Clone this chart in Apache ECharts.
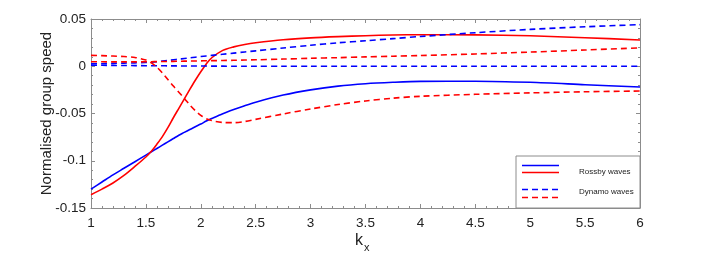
<!DOCTYPE html>
<html>
<head>
<meta charset="utf-8">
<script src="https://cdn.jsdelivr.net/npm/echarts@6/dist/echarts.min.js"></script>
<style>
html,body{margin:0;padding:0;background:#fff;}
#chart{width:708px;height:254px;}
</style>
</head>
<body>
<div id="chart"></div>
<script>
var kx = [1,1.1,1.2,1.3,1.4,1.5,1.55,1.6,1.65,1.7,1.75,1.8,1.85,1.9,1.95,2,2.05,2.1,2.2,2.3,2.4,2.5,2.75,3,3.25,3.5,3.75,4,4.5,5,5.5,6];
var rossbyBlue = [-0.130,-0.1225,-0.115,-0.108,-0.101,-0.094,-0.0905,-0.087,-0.0835,-0.080,-0.0765,-0.073,-0.070,-0.067,-0.064,-0.0612,-0.058,-0.0553,-0.0502,-0.0458,-0.0417,-0.038,-0.0305,-0.025,-0.021,-0.0185,-0.017,-0.016,-0.0158,-0.017,-0.0195,-0.022];
var rossbyRed = [-0.136,-0.130,-0.1235,-0.1155,-0.106,-0.096,-0.090,-0.0825,-0.0745,-0.065,-0.0545,-0.0445,-0.0345,-0.0245,-0.0148,-0.0058,0.0025,0.0090,0.0168,0.0205,0.0230,0.0248,0.0280,0.0300,0.0313,0.0323,0.0331,0.0334,0.0332,0.0322,0.0302,0.0278];
var dynamoBlueUpper = [0.0025,0.0027,0.0030,0.0033,0.0036,0.0040,0.0044,0.0049,0.0055,0.0061,0.0068,0.0075,0.0082,0.0089,0.0096,0.0103,0.0109,0.0115,0.0127,0.0139,0.0151,0.0163,0.0193,0.0222,0.0248,0.0270,0.0292,0.0315,0.0355,0.0390,0.0418,0.0440];
var dynamoBlueLower = [0.0010,0.0010,0.0009,0.0008,0.0007,0.0006,0.0006,0.0005,0.0005,0.0004,0.0004,0.0003,0.0003,0.0003,0.0002,0.0002,0.0002,0.0001,0.0001,0,0,0,0,0,0,0,0,0,0,0,0,0];
var dynamoRedUpper = [0.0115,0.0112,0.0108,0.0103,0.0093,0.0065,0.0035,-0.0010,-0.0070,-0.0140,-0.0210,-0.0275,-0.0340,-0.0410,-0.0470,-0.0520,-0.0555,-0.0575,-0.0595,-0.0597,-0.0585,-0.0562,-0.0505,-0.0452,-0.0405,-0.0367,-0.0338,-0.0318,-0.0297,-0.0282,-0.0270,-0.0262];
var dynamoRedLower = [0.0048,0.0047,0.0046,0.0046,0.0046,0.0047,0.0048,0.0049,0.0050,0.0051,0.0052,0.0053,0.0054,0.0055,0.0056,0.0057,0.0058,0.0059,0.0061,0.0063,0.0066,0.0068,0.0076,0.0084,0.0091,0.0099,0.0106,0.0113,0.0130,0.0150,0.0172,0.0195];
var xTicks = {min: 1, max: 6, interval: 0.5};
var yTicks = {min: -0.15, max: 0.05, interval: 0.05};
var yTitle = 'Normalised group speed';
var legendNames = ['Rossby waves', 'Dynamo waves'];

var FONT = '"Liberation Sans", Arial, Helvetica, sans-serif';
var BLUE = '#0000ff', RED = '#ff0000', FRAME = '#8c8c8c', TXT = '#222';

function pairs(ys){ return kx.map(function(x,i){ return [x, ys[i]]; }); }
function fmt(v){ return String(parseFloat(v.toFixed(3))); }

function axisBase(show){
  return {
    axisLine: {show: true, onZero: false, lineStyle: {color: FRAME, width: 1}},
    axisTick: {show: true, inside: true, length: 4, lineStyle: {color: FRAME}},
    minorTick: {show: true, splitNumber: 5, length: 2, lineStyle: {color: FRAME}},
    splitLine: {show: false},
    minorSplitLine: {show: false},
    axisLabel: {show: show, color: TXT, fontFamily: FONT, fontSize: 13.5, formatter: fmt}
  };
}

function line(name, ys, color, dashed){
  return {
    name: name, type: 'line', data: pairs(ys),
    xAxisIndex: 0, yAxisIndex: 0,
    showSymbol: false, symbol: 'none',
    smooth: 0.3,
    lineStyle: {color: color, width: 1.6, type: dashed ? [6, 4] : 'solid'},
    silent: true, animation: false
  };
}

var chart = echarts.init(document.getElementById('chart'), null, {renderer: 'canvas'});
var xb = axisBase(true), xt = axisBase(false), yl = axisBase(true), yr = axisBase(false);
xb.axisLabel.margin = 8;
yl.axisLabel.margin = 5;

var option = {
  backgroundColor: '#fff',
  animation: false,
  grid: {left: 91, right: 68, top: 19, bottom: 46, containLabel: false},
  xAxis: [
    Object.assign({type: 'value', position: 'bottom'}, xTicks, xb),
    Object.assign({type: 'value', position: 'top'}, xTicks, xt)
  ],
  yAxis: [
    Object.assign({type: 'value', position: 'left',
      name: yTitle, nameLocation: 'middle', nameGap: 37, nameMoveOverlap: false,
      nameTextStyle: {color: TXT, fontFamily: FONT, fontSize: 15}}, yTicks, yl),
    Object.assign({type: 'value', position: 'right'}, yTicks, yr)
  ],
  series: [
    line(legendNames[0], rossbyBlue, BLUE, false),
    line(legendNames[0], rossbyRed, RED, false),
    line(legendNames[1], dynamoBlueUpper, BLUE, true),
    line(legendNames[1], dynamoBlueLower, BLUE, true),
    line(legendNames[1], dynamoRedUpper, RED, true),
    line(legendNames[1], dynamoRedLower, RED, true)
  ],
  graphic: [
    {type: 'text', left: 355, top: 233, style: {text: 'k', font: '16px ' + FONT, fill: TXT}},
    {type: 'text', left: 364, top: 242, style: {text: 'x', font: '11px ' + FONT, fill: TXT}},
    {type: 'rect', shape: {x: 516, y: 156, width: 124, height: 52}, style: {fill: '#fff', stroke: FRAME, lineWidth: 1}, z: 10},
    {type: 'line', shape: {x1: 522, y1: 165.5, x2: 559, y2: 165.5}, style: {stroke: BLUE, lineWidth: 1.6}, z: 11},
    {type: 'line', shape: {x1: 522, y1: 172.5, x2: 559, y2: 172.5}, style: {stroke: RED, lineWidth: 1.6}, z: 11},
    {type: 'line', shape: {x1: 522, y1: 189.5, x2: 559, y2: 189.5}, style: {stroke: BLUE, lineWidth: 1.6, lineDash: [6, 4]}, z: 11},
    {type: 'line', shape: {x1: 522, y1: 197.5, x2: 559, y2: 197.5}, style: {stroke: RED, lineWidth: 1.6, lineDash: [6, 4]}, z: 11},
    {type: 'text', left: 579, top: 168, style: {text: legendNames[0], font: '8px ' + FONT, fill: TXT}, z: 11},
    {type: 'text', left: 579, top: 188, style: {text: legendNames[1], font: '8px ' + FONT, fill: TXT}, z: 11}
  ]
};
chart.setOption(option);
</script>
</body>
</html>
